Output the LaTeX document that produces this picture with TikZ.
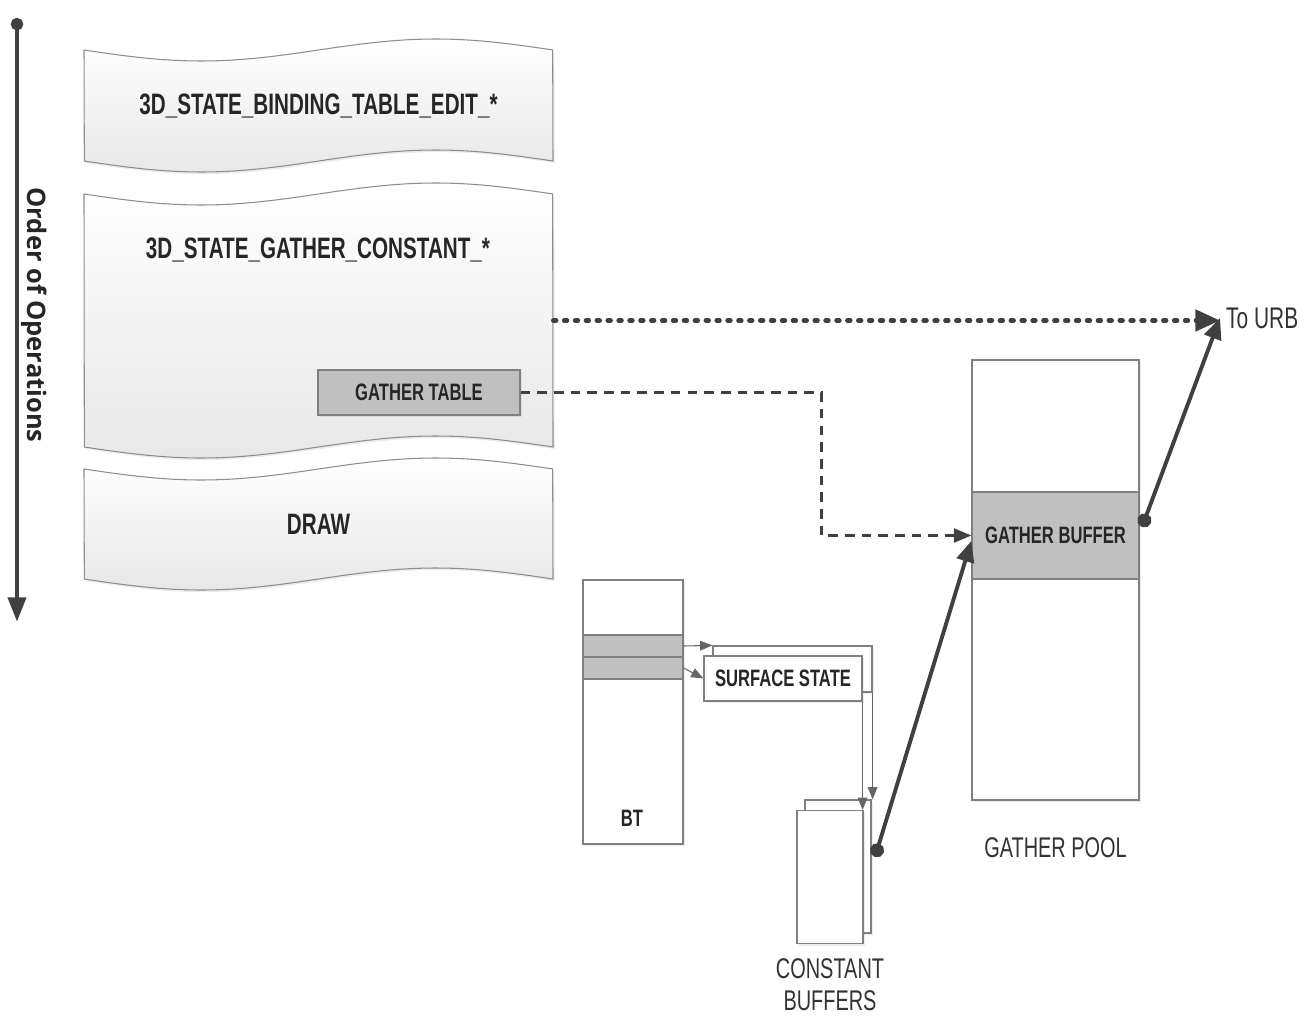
\documentclass[tikz,border=0pt]{standalone}
\usepackage{fontspec}
\setmainfont{Liberation Sans}[FakeStretch=0.7]
\newfontfamily\orderfont{Open Sans}
\usetikzlibrary{arrows.meta,positioning,calc,shadows}

\definecolor{ink}{HTML}{404040}
\definecolor{boxline}{HTML}{808080}
\definecolor{cellgray}{HTML}{C0C0C0}

% #1 top edge, #2 bottom edge
\newcommand{\tape}[2]{%
  \path[tapefill] plot[domain=0:1, samples=60] ({84+469*\x},{#1+11*sin(360*\x)})
    -- plot[domain=1:0, samples=60] ({84+469*\x},{#2+11*sin(360*\x)}) -- cycle;}

\begin{document}
\begin{tikzpicture}[x=0.02cm, y=-0.02cm,
    softshadow/.style={drop shadow={opacity=0.15, shadow xshift=1pt, shadow yshift=-1.2pt}},
    band/.style={minimum width=9.38cm, inner sep=0pt},
    tapefill/.style={draw=boxline!90, line width=0.6pt, top color=white, bottom color=black!9, softshadow},
    title/.style={font=\bfseries\fontsize{16.8}{18}\selectfont, text=black!85},
    cell/.style={draw=boxline, line width=0.7pt, fill=white, inner sep=0pt, font=\bfseries\fontsize{13.5}{15}\selectfont, text=black!85},
    graycell/.style={cell, fill=cellgray},
    caption/.style={font=\fontsize{16.2}{18}\selectfont, text=black!80, align=center},
    thin/.style={draw=black!60, line width=0.6pt, -{Triangle[length=7pt,width=5.5pt]}},
    fat/.style={draw=ink, line width=2.2pt, {Circle[length=8pt]}-{Triangle[length=12pt,width=10pt]}},
    order/.style={draw=ink, line width=2.8pt, {Circle[length=7pt]}-{Triangle[length=14pt,width=10pt]}},
    dashline/.style={draw=ink, line width=1.4pt, dash pattern=on 5.5pt off 4pt, -{Triangle[length=10pt,width=8pt]}},
    dotline/.style={draw=ink, line width=2.6pt, line cap=round, dash pattern=on 1.6pt off 4.6pt, -{Triangle[length=14pt,width=12pt]}},
    node distance=0.5cm
]
\useasboundingbox (0,0) rectangle (1312,1017);

\tape{50}{161}
\tape{194}{447}
\tape{469}{579}
\node[band, minimum height=2.22cm] (bte) at (318.5,105.5) {};
\node[band, minimum height=5.06cm] (gc) at (318.5,320.5) {};
\node[band, minimum height=2.2cm] (drw) at (318.5,524) {};
\node[title] (bteText) at (bte) {3D\_STATE\_BINDING\_TABLE\_EDIT\_*};
\node[title] (gcText) at (318,250) {3D\_STATE\_GATHER\_CONSTANT\_*};
\node[title] (drwText) at (drw) {DRAW};
\node[graycell, softshadow, minimum width=4.04cm, minimum height=0.9cm] (gt) at (419,392.5) {GATHER TABLE};

\coordinate (otop) at (17,18);
\coordinate (obot) at (17,622);
\draw[order] (otop) -- (obot);
\node[rotate=-90, font=\orderfont\bfseries\fontsize{14.5}{16}\selectfont, text=black!85] (orderText) at (34,315) {Order of Operations};

\node[cell, softshadow, minimum width=2cm, minimum height=5.28cm] (bt) at (633,712) {};
\node[graycell, minimum width=2cm, minimum height=0.44cm] (bt1) at (633,646) {};
\node[graycell, minimum width=2cm, minimum height=0.44cm] (bt2) at (633,668) {};
\node[font=\bfseries\fontsize{13.5}{15}\selectfont, text=black!85] (btText) at (632,818) {BT};

\node[cell, softshadow, minimum width=3.18cm, minimum height=0.92cm] (ssback) at (792.5,669) {};
\node[cell, softshadow, minimum width=3.16cm, minimum height=0.9cm] (ss) at (783,678.5) {SURFACE STATE};

\node[cell, softshadow, minimum width=1.32cm, minimum height=2.66cm] (cbback) at (838,866.5) {};
\node[cell, softshadow, minimum width=1.32cm, minimum height=2.66cm] (cb) at (830,877) {};
\node[caption, below=0.17cm of cb] (cbText) {CONSTANT\\BUFFERS};

\node[cell, softshadow, minimum width=3.34cm, minimum height=8.8cm] (pool) at (1055.5,580) {};
\node[graycell, minimum width=3.34cm, minimum height=1.74cm] (gb) at (1055.5,535.5) {GATHER BUFFER};
\node[caption, below=0.62cm of pool] (poolText) {GATHER POOL};
\node[caption, anchor=west, font=\fontsize{17}{18}\selectfont] (urb) at (1220,318) {To URB};

\coordinate (cbdot) at (875,857);
\coordinate (gbdot) at (1142,527);

\draw[thin] (bt1.east) -- (ssback.north west);
\draw[thin] (bt2.east) -- (ss.west);
\draw[thin] (ssback.south east) -- (ssback.south east |- cbback.north);
\draw[thin] (ss.south east) -- (ss.south east |- cb.north);
\draw[fat] (cbdot) -- ([yshift=-3pt]gb.west);
\draw[fat] (gbdot) -- (urb.west);
\draw[dotline] (gc.east) -- (gc.east -| urb.west);
\draw[dashline] (gt.east) -| ($(gb.west)+(-150,0)$) -- (gb.west);
\end{tikzpicture}
\end{document}
